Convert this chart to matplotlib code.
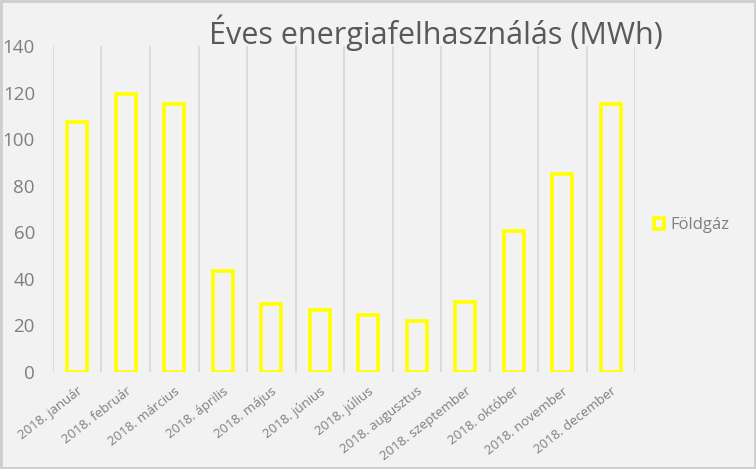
import numpy as np
import matplotlib.pyplot as plt
from matplotlib.patches import Patch

months = ['2018. január', '2018. február', '2018. március', '2018. április',
          '2018. május', '2018. június', '2018. július', '2018. augusztus',
          '2018. szeptember', '2018. október', '2018. november', '2018. december']
foldgaz = [107.5, 119.5, 115, 43.5, 29, 26.5, 24.5, 22, 30, 60.5, 85, 115.2]
yticks = [0, 20, 40, 60, 80, 100, 120, 140]

plt.rcParams['font.family'] = ['Open Sans', 'DejaVu Sans']

bg = '#f2f2f2'
grid_c = '#d9d9d9'
text_c = '#595959'
tick_c = '#7f7f7f'

fig = plt.figure(figsize=(7.56, 4.69), dpi=100, facecolor=bg,
                 edgecolor='#d0d0d0', linewidth=2.5)
ax = fig.add_axes([0.0701, 0.2068, 0.7699, 0.6952])
ax.set_facecolor(bg)

x = np.arange(len(months))
ax.bar(x, foldgaz, width=0.42, facecolor='none', edgecolor='#ffff00', linewidth=2.6)

# vertical gridlines at category boundaries
for b in np.arange(len(months) + 1) - 0.5:
    ax.axvline(b, color=grid_c, lw=1.3, zorder=0)

ax.set_xlim(-0.5, len(months) - 0.5)
ax.set_ylim(0, 140)
ax.set_yticks(yticks)
ax.set_yticklabels([str(v) for v in yticks], fontsize=13.5, color=tick_c)
ax.set_xticks(x)
ax.set_xticklabels(months, rotation=38, ha='right', rotation_mode='anchor',
                   fontsize=9.5, color=tick_c)
ax.tick_params(axis='both', length=0)
ax.tick_params(axis='y', pad=13)
ax.tick_params(axis='x', pad=9)
for s in ax.spines.values():
    s.set_visible(False)

fig.text(0.576, 0.93, 'Éves energiafelhasználás (MWh)', ha='center', va='center',
         fontsize=22, color=text_c)

handle = Patch(facecolor='none', edgecolor='#ffff00', linewidth=2.6)
fig.legend([handle], ['Földgáz'], loc='center left', bbox_to_anchor=(0.845, 0.52),
           frameon=False, fontsize=12, labelcolor=tick_c,
           handlelength=0.6, handleheight=0.6, handletextpad=0.4)

plt.savefig('out.png', dpi=100, facecolor=fig.get_facecolor(),
            edgecolor=fig.get_edgecolor())
